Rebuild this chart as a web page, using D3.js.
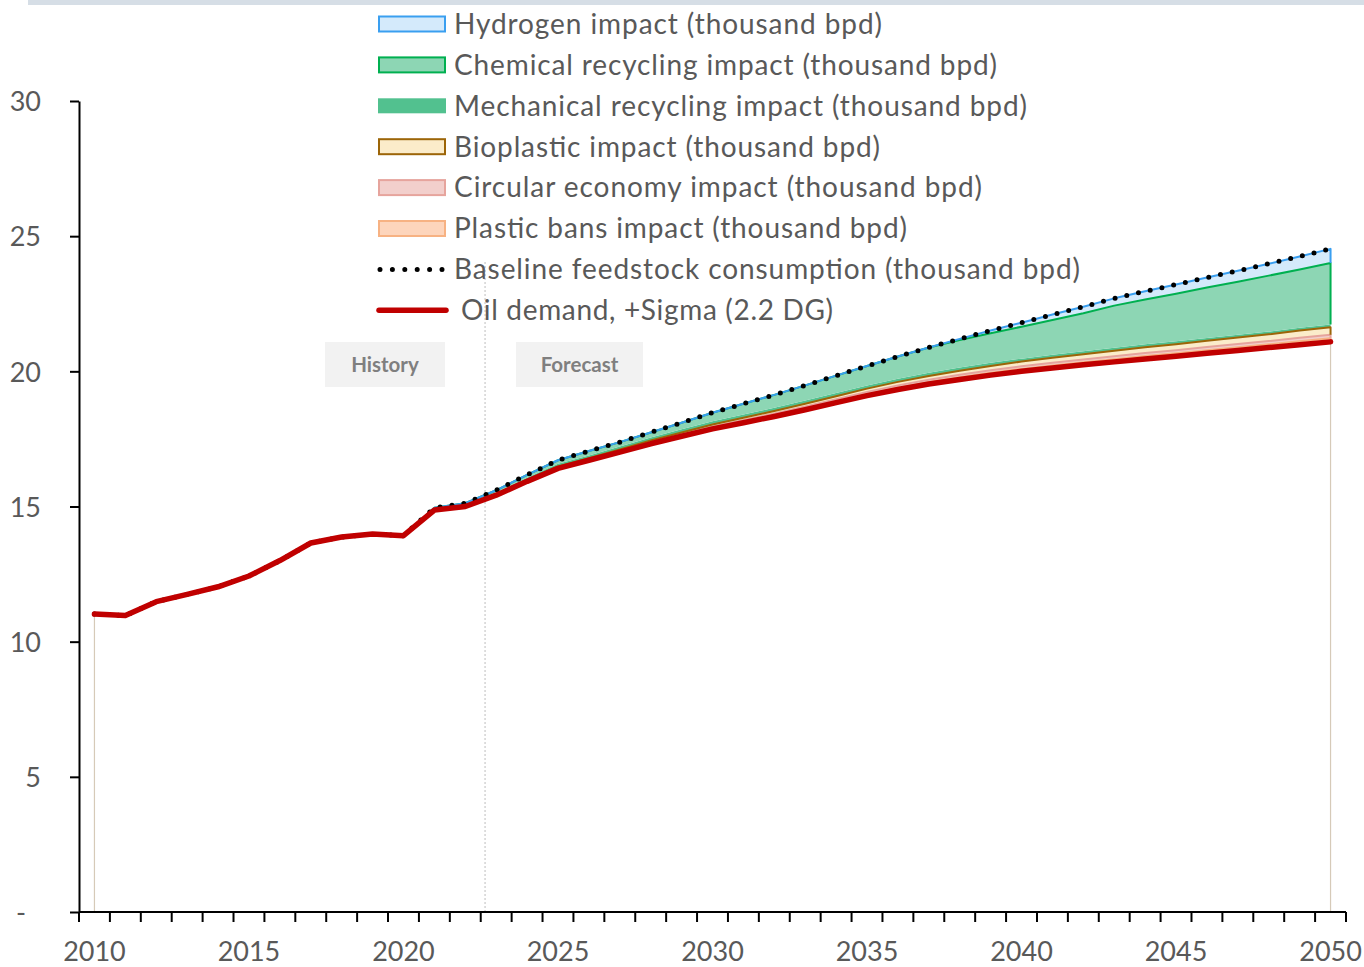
<!DOCTYPE html>
<html>
<head>
<meta charset="utf-8">
<script src="https://cdn.jsdelivr.net/npm/d3@7/dist/d3.min.js"></script>
<style>
  html, body { margin: 0; padding: 0; background: #ffffff; }
  svg { display: block; font-family: Lato, "Open Sans", sans-serif; }
</style>
</head>
<body>
<svg id="chart" width="1364" height="967"></svg>
<script>
// Years on the category axis
const years = d3.range(2010, 2051);

// Oil demand, +Sigma (2.2 DG)
const oilDemand = [
  11.02, 10.97, 11.48, 11.75, 12.03, 12.43, 13.00, 13.65, 13.87, 13.98,
  13.92, 14.87, 15.00, 15.42, 15.93, 16.41, 16.71, 17.01, 17.32, 17.60,
  17.87, 18.10, 18.33, 18.58, 18.84, 19.10, 19.33, 19.53, 19.70, 19.86,
  20.00, 20.12, 20.24, 20.35, 20.46, 20.56, 20.67, 20.77, 20.88, 20.98,
  21.09
];

// Impacts stacked on top of oil demand (thousand bpd)
const plasticBans = [
  0,0,0,0,0,0,0,0,0,0,0,
  0.00,0.00,0.01,0.01,0.02,0.02,0.03,0.03,0.04,0.04,
  0.05,0.05,0.06,0.06,0.07,0.07,0.08,0.08,0.09,0.09,
  0.10,0.10,0.10,0.11,0.11,0.11,0.12,0.12,0.13,0.13
];
const circularEconomy = [
  0,0,0,0,0,0,0,0,0,0,0,
  0.00,0.01,0.01,0.02,0.02,0.03,0.03,0.04,0.04,0.05,
  0.05,0.06,0.06,0.07,0.07,0.08,0.08,0.09,0.09,0.10,
  0.10,0.10,0.11,0.11,0.11,0.12,0.12,0.12,0.13,0.13
];
const bioplastic = [
  0,0,0,0,0,0,0,0,0,0,0,
  0.00,0.01,0.01,0.02,0.03,0.03,0.04,0.05,0.06,0.07,
  0.08,0.09,0.10,0.11,0.12,0.13,0.14,0.15,0.16,0.17,
  0.18,0.19,0.20,0.21,0.22,0.23,0.24,0.25,0.27,0.28
];
const mechanicalRecycling = [
  0,0,0,0,0,0,0,0,0,0,0,
  0.03,0.05,0.07,0.08,0.10,0.10,0.11,0.11,0.12,0.12,
  0.12,0.12,0.12,0.12,0.12,0.12,0.12,0.12,0.12,0.11,
  0.11,0.11,0.11,0.11,0.11,0.10,0.10,0.10,0.10,0.10
];
const chemicalRecycling = [
  0,0,0,0,0,0,0,0,0,0,0,
  0.05,0.05,0.08,0.11,0.13,0.16,0.16,0.19,0.24,0.32,
  0.40,0.48,0.56,0.64,0.72,0.82,0.93,1.02,1.09,1.18,
  1.29,1.41,1.56,1.66,1.76,1.87,1.96,2.07,2.16,2.28
];
const hydrogen = [
  0,0,0,0,0,0,0,0,0,0,0,
  0,0,0,0,0,0,0,0,0,0,
  0,0,0,0,0,0,0,0.04,0.10,0.15,
  0.20,0.24,0.27,0.30,0.34,0.37,0.41,0.44,0.48,0.52
];

// Axis ticks
const yTicks = [0, 5, 10, 15, 20, 25, 30];
const xLabelYears = [2010, 2015, 2020, 2025, 2030, 2035, 2040, 2045, 2050];
const forecastStart = 2022.64;

const svg = d3.select("#chart");

// Thin band across the top of the page
svg.append("rect").attr("x", 28).attr("y", 0).attr("width", 1336).attr("height", 5).attr("fill", "#d6dee6");

const plot = { left: 79, right: 1346, top: 101, bottom: 912 };

const xBand = d3.scaleBand().domain(years).range([plot.left, plot.right]).padding(0);
const bw = xBand.bandwidth();
const xc = yr => xBand(yr) + bw / 2;
const xLin = d3.scaleLinear().domain([2010, 2050]).range([xc(2010), xc(2050)]);
const y = d3.scaleLinear().domain([0, 30]).range([plot.bottom, plot.top]);

// Table for stacking
const rows = years.map((yr, i) => ({
  year: yr,
  oil: oilDemand[i],
  bans: plasticBans[i],
  circular: circularEconomy[i],
  bio: bioplastic[i],
  mech: mechanicalRecycling[i],
  chem: chemicalRecycling[i],
  hyd: hydrogen[i]
}));

const keys = ["oil", "bans", "circular", "bio", "mech", "chem", "hyd"];
const stacked = d3.stack().keys(keys)(rows);

const styles = {
  bans:     { fill: "#fdd5bc", stroke: "#f7b283" },
  circular: { fill: "#f2cfcc", stroke: "#e6a49d" },
  bio:      { fill: "#fbecca", stroke: "#9c6508" },
  mech:     { fill: "#52c18f", stroke: null },
  chem:     { fill: "#8dd6b4", stroke: "#00b050" },
  hyd:      { fill: "#d4eafb", stroke: "#3a9ff0" }
};

const area = d3.area()
  .x(d => xc(d.data.year))
  .y0(d => y(d[0]))
  .y1(d => y(d[1]));

const gAreas = svg.append("g");
stacked.slice(1).forEach(layer => {
  const st = styles[layer.key];
  gAreas.append("path")
    .datum(layer)
    .attr("d", area)
    .attr("fill", st.fill)
    .attr("stroke", "none");
});

// Borders: upper edge of each bordered layer plus its right end
const edge = d3.line().x(p => p[0]).y(p => p[1]);
stacked.slice(1).forEach(layer => {
  const st = styles[layer.key];
  if (!st.stroke) return;
  const last = layer[layer.length - 1];
  const pts = layer.map(d => [xc(d.data.year), y(d[1])]);
  pts.push([xc(last.data.year), y(last[0])]);
  gAreas.append("path")
    .attr("d", edge(pts))
    .attr("fill", "none")
    .attr("stroke", st.stroke)
    .attr("stroke-width", 2)
    .attr("stroke-linejoin", "round");
});

// Drop lines at the first and last year
[0, years.length - 1].forEach(i => {
  svg.append("line")
    .attr("x1", xc(years[i])).attr("x2", xc(years[i]))
    .attr("y1", y(oilDemand[i])).attr("y2", y(0))
    .attr("stroke", "#d6cab8").attr("stroke-width", 1.2);
});

// History / forecast divider
svg.append("line")
  .attr("x1", xLin(forecastStart)).attr("x2", xLin(forecastStart))
  .attr("y1", 262).attr("y2", plot.bottom)
  .attr("stroke", "#bdbdbd").attr("stroke-width", 1).attr("stroke-dasharray", "2,2");

// History / Forecast tags
[["History", 325, 120], ["Forecast", 516, 127]].forEach(([t, x0, w]) => {
  svg.append("rect").attr("x", x0).attr("y", 342).attr("width", w).attr("height", 45).attr("fill", "#f2f2f2");
  svg.append("text").attr("x", x0 + w / 2).attr("y", 372)
    .attr("text-anchor", "middle").attr("font-size", 20.5).attr("font-weight", 700)
    .attr("fill", "#7f7f7f").text(t);
});

// Baseline feedstock consumption = top of the stack
const stackTop = stacked[stacked.length - 1];
const baselineLine = d3.line().x(d => xc(d.data.year)).y(d => y(d[1]));
svg.append("path")
  .datum(stackTop)
  .attr("d", baselineLine)
  .attr("fill", "none")
  .attr("stroke", "#000")
  .attr("stroke-width", 5)
  .attr("stroke-linecap", "round")
  .attr("stroke-dasharray", "0 12");

// Oil demand line
const oilLine = d3.line().x((d, i) => xc(years[i])).y(d => y(d));
svg.append("path")
  .datum(oilDemand)
  .attr("d", oilLine)
  .attr("fill", "none")
  .attr("stroke", "#c00000")
  .attr("stroke-width", 5.5)
  .attr("stroke-linejoin", "round")
  .attr("stroke-linecap", "round");

// Y axis
const yAxis = d3.axisLeft(y)
  .tickValues(yTicks)
  .tickSize(9)
  .tickSizeOuter(0)
  .tickPadding(29)
  .tickFormat(d => d === 0 ? "-" : d);
const gy = svg.append("g").attr("transform", `translate(${plot.left},0)`).call(yAxis);
gy.select(".domain").attr("stroke", "#000").attr("stroke-width", 2);
gy.selectAll(".tick line").attr("stroke", "#000").attr("stroke-width", 2);
gy.selectAll(".tick text")
  .attr("font-family", "Lato, sans-serif")
  .attr("font-size", 27)
  .attr("fill", "#595959")
  .attr("dy", "0.36em")
  .attr("dx", d => d === 0 ? -15 : 0);

// X axis: boundary ticks between categories, labels every five years
const gx = svg.append("g");
gx.append("line")
  .attr("x1", plot.left).attr("x2", plot.right)
  .attr("y1", plot.bottom).attr("y2", plot.bottom)
  .attr("stroke", "#000").attr("stroke-width", 2);
const bounds = years.map(yr => xBand(yr)).concat([plot.right]);
gx.selectAll("line.tk").data(bounds).join("line")
  .attr("class", "tk")
  .attr("x1", d => d).attr("x2", d => d)
  .attr("y1", plot.bottom).attr("y2", plot.bottom + 10)
  .attr("stroke", "#000").attr("stroke-width", 2);
gx.selectAll("text").data(xLabelYears).join("text")
  .attr("x", d => xc(d))
  .attr("y", 961)
  .attr("text-anchor", "middle")
  .attr("font-size", 27)
  .attr("fill", "#595959")
  .text(d => d);

// Legend
const legend = [
  { label: "Hydrogen impact (thousand bpd)", type: "box", fill: "#d4eafb", stroke: "#3a9ff0", w: 428 },
  { label: "Chemical recycling impact (thousand bpd)", type: "box", fill: "#8dd6b4", stroke: "#00b050", w: 543 },
  { label: "Mechanical recycling impact (thousand bpd)", type: "box", fill: "#52c18f", stroke: null, w: 573 },
  { label: "Bioplastic impact (thousand bpd)", type: "box", fill: "#fbecca", stroke: "#9c6508", w: 426 },
  { label: "Circular economy impact (thousand bpd)", type: "box", fill: "#f2cfcc", stroke: "#e6a49d", w: 528 },
  { label: "Plastic bans impact (thousand bpd)", type: "box", fill: "#fdd5bc", stroke: "#f7b283", w: 453 },
  { label: "Baseline feedstock consumption (thousand bpd)", type: "dots", w: 626 },
  { label: "Oil demand, +Sigma (2.2 DG)", type: "line", dx: 7, w: 372 }
];
const gl = svg.append("g");
legend.forEach((it, i) => {
  const cy = 24 + i * 40.9;
  if (it.type === "box") {
    gl.append("rect")
      .attr("x", it.stroke ? 379 : 378).attr("y", cy - 7.5)
      .attr("width", it.stroke ? 66 : 68).attr("height", 15)
      .attr("fill", it.fill)
      .attr("stroke", it.stroke || "none")
      .attr("stroke-width", 2);
  } else if (it.type === "dots") {
    gl.append("line")
      .attr("x1", 380).attr("x2", 442).attr("y1", cy).attr("y2", cy)
      .attr("stroke", "#000").attr("stroke-width", 5)
      .attr("stroke-linecap", "round").attr("stroke-dasharray", "0 12.4");
  } else {
    gl.append("line")
      .attr("x1", 379).attr("x2", 446).attr("y1", cy).attr("y2", cy)
      .attr("stroke", "#c00000").attr("stroke-width", 5.5)
      .attr("stroke-linecap", "round");
  }
  gl.append("text")
    .attr("x", 454 + (it.dx || 0))
    .attr("y", cy)
    .attr("dy", "0.35em")
    .attr("font-size", 28)
    .attr("fill", "#595959")
    .attr("textLength", it.w)
    .attr("lengthAdjust", "spacing")
    .text(it.label);
});
</script>
</body>
</html>
